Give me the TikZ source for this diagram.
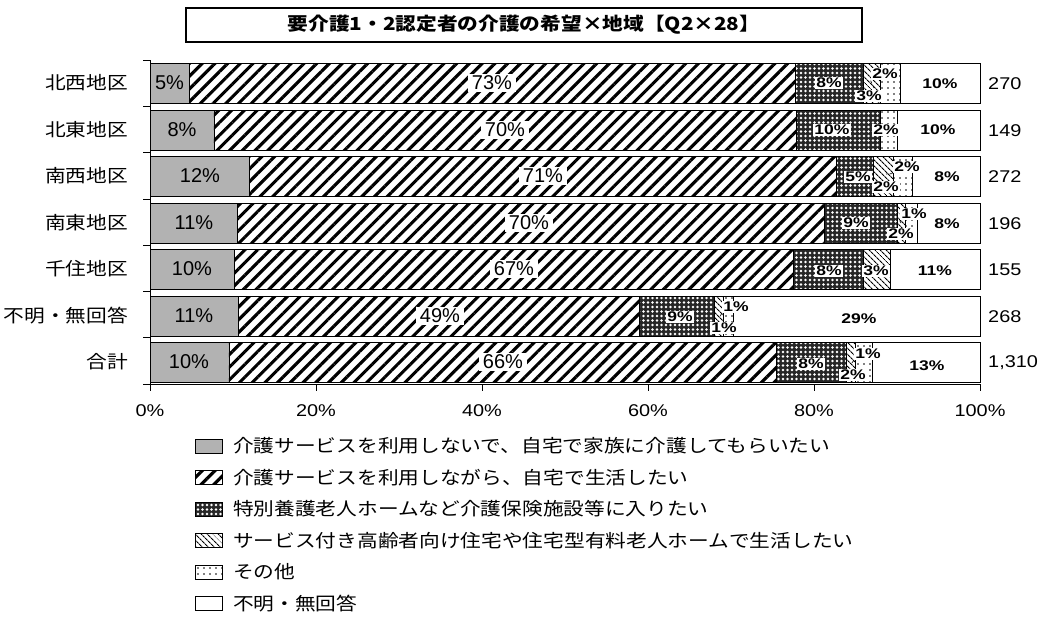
\documentclass[tikz,border=0pt]{standalone}
\usepackage{fontspec}
\setmainfont{Liberation Sans}
\newfontfamily\jp[FakeStretch=1.15]{Noto Sans CJK JP}
\newfontfamily\numw[FakeStretch=1.17]{Liberation Sans}
\newfontfamily\numb[FakeStretch=1.25]{Liberation Sans}
\usetikzlibrary{patterns.meta}
\usetikzlibrary{positioning}

\tikzset{
  kazoku/.style={draw=black,line width=0.8pt,fill=black!30},
  zaitaku/.style={draw=black,line width=0.8pt,pattern={Lines[angle=45,distance=9pt,line width=3.1pt]}},
  shisetsu/.style={draw=black,line width=0.8pt,preaction={fill=black!85},pattern={Dots[distance=4.5pt,radius=1.4pt]},pattern color=white},
  sakoju/.style={draw=black,line width=0.8pt,pattern={Lines[angle=-45,distance=4pt,line width=1.1pt]}},
  sonota/.style={draw=black,line width=0.8pt,pattern={Dots[distance=6pt,radius=0.8pt]}},
  fumei/.style={draw=black,line width=0.8pt,fill=white},
  biglbl/.style={inner sep=1pt,font=\fontsize{20}{22}\selectfont},
  boxlbl/.style={biglbl,fill=white,inner xsep=4pt,inner ysep=2pt},
  smlbl/.style={fill=white,inner sep=1.5pt,font=\numb\bfseries\fontsize{14}{15}\selectfont},
  leader/.style={densely dashed,line width=0.6pt},
  cat/.style={anchor=east,inner sep=0pt,font=\jp\fontsize{18}{20}\selectfont},
  cnt/.style={anchor=west,inner sep=0pt,font=\numw\fontsize{17}{19}\selectfont},
  tick/.style={font=\numw\fontsize{17}{19}\selectfont},
  swatch/.style={minimum width=27pt,minimum height=14pt,inner sep=0pt},
  legtxt/.style={inner sep=0pt,font=\jp\fontsize{18}{20}\selectfont}
}

\begin{document}
\begin{tikzpicture}[x=1pt,y=-1pt]
\useasboundingbox (0,0) rectangle (1044,622);

% title
\node[draw,line width=1.2pt,minimum width=676pt,minimum height=34pt,font=\jp\bfseries\fontsize{18}{20}\selectfont] (title) at (524,25) {要介護1・2認定者の介護の希望×地域【Q2×28】};

% bars
\draw[kazoku] (150,63) rectangle (189.0,103);
\draw[zaitaku] (189.0,63) rectangle (794.9,103);
\draw[shisetsu] (794.9,63) rectangle (863.0,103);
\draw[sakoju] (863.0,63) rectangle (880.4,103);
\draw[sonota] (880.4,63) rectangle (900.3,103);
\draw[fumei] (900.3,63) rectangle (980,103);

\draw[kazoku] (150,110) rectangle (213.9,150);
\draw[zaitaku] (213.9,110) rectangle (796.6,150);
\draw[shisetsu] (796.6,110) rectangle (880.4,150);
\draw[sonota] (880.4,110) rectangle (897.0,150);
\draw[fumei] (897.0,110) rectangle (980,150);

\draw[kazoku] (150,156) rectangle (249.6,196);
\draw[zaitaku] (249.6,156) rectangle (836.4,196);
\draw[shisetsu] (836.4,156) rectangle (873.8,196);
\draw[sakoju] (873.8,156) rectangle (892.9,196);
\draw[sonota] (892.9,156) rectangle (911.9,196);
\draw[fumei] (911.9,156) rectangle (980,196);

\draw[kazoku] (150,203) rectangle (237.2,243);
\draw[zaitaku] (237.2,203) rectangle (824.0,243);
\draw[shisetsu] (824.0,203) rectangle (897.0,243);
\draw[sakoju] (897.0,203) rectangle (905.3,243);
\draw[sonota] (905.3,203) rectangle (916.9,243);
\draw[fumei] (916.9,203) rectangle (980,243);

\draw[kazoku] (150,249) rectangle (234.7,289);
\draw[zaitaku] (234.7,249) rectangle (793.3,289);
\draw[shisetsu] (793.3,249) rectangle (863.0,289);
\draw[sakoju] (863.0,249) rectangle (890.4,289);
\draw[fumei] (890.4,249) rectangle (980,289);

\draw[kazoku] (150,296) rectangle (238.8,336);
\draw[zaitaku] (238.8,296) rectangle (639.7,336);
\draw[shisetsu] (639.7,296) rectangle (714.4,336);
\draw[sakoju] (714.4,296) rectangle (723.5,336);
\draw[sonota] (723.5,296) rectangle (733.5,336);
\draw[fumei] (733.5,296) rectangle (980,336);

\draw[kazoku] (150,342) rectangle (228.9,382);
\draw[zaitaku] (228.9,342) rectangle (776.7,382);
\draw[shisetsu] (776.7,342) rectangle (846.4,382);
\draw[sakoju] (846.4,342) rectangle (855.5,382);
\draw[sonota] (855.5,342) rectangle (872.1,382);
\draw[fumei] (872.1,342) rectangle (980,382);

% segment labels
\node[biglbl] (a1) at (169.5,83) {5\%};
\node[boxlbl] (b1) at (492,83) {73\%};
\node[smlbl] (c1) at (829,83) {8\%};
\node[smlbl] (d1) at (885,74) {2\%};
\node[smlbl] (e1) at (869,96) {3\%};
\node[smlbl] (f1) at (940,84) {10\%};
\coordinate (k1) at (874,88);
\draw[leader] (d1.south west) -- (k1);

\node[biglbl] (a2) at (182,130) {8\%};
\node[boxlbl] (b2) at (505,130) {70\%};
\node[smlbl] (c2) at (832,130) {10\%};
\node[smlbl] (d2) at (886,130) {2\%};
\node[smlbl] (f2) at (938,130) {10\%};

\node[biglbl] (a3) at (200,176) {12\%};
\node[boxlbl] (b3) at (543,176) {71\%};
\node[smlbl] (c3) at (858,177) {5\%};
\node[smlbl] (d3) at (907,167) {2\%};
\node[smlbl] (e3) at (886,187) {2\%};
\node[smlbl] (f3) at (947,177) {8\%};
\coordinate (k3) at (886,174);
\draw[leader] (d3.south west) -- (k3);

\node[biglbl] (a4) at (194,223) {11\%};
\node[boxlbl] (b4) at (529,223) {70\%};
\node[smlbl] (c4) at (856,223) {9\%};
\node[smlbl] (d4) at (914,214) {1\%};
\node[smlbl] (e4) at (901,234) {2\%};
\node[smlbl] (f4) at (947,224) {8\%};
\coordinate (k4) at (901,223);
\draw[leader] (d4.south west) -- (k4);

\node[biglbl] (a5) at (192,269) {10\%};
\node[boxlbl] (b5) at (514,269) {67\%};
\node[smlbl] (c5) at (829,271) {8\%};
\node[smlbl] (d5) at (876,271) {3\%};
\node[smlbl] (f5) at (935,271) {11\%};

\node[biglbl] (a6) at (194,316) {11\%};
\node[boxlbl] (b6) at (440,316) {49\%};
\node[smlbl] (c6) at (680,317) {9\%};
\node[smlbl] (d6) at (736,307) {1\%};
\node[smlbl] (e6) at (724,328) {1\%};
\node[smlbl] (f6) at (859,319) {29\%};
\coordinate (k6) at (719,318);
\draw[leader] (d6.south west) -- (k6);

\node[biglbl] (a7) at (189,362) {10\%};
\node[boxlbl] (b7) at (503,362) {66\%};
\node[smlbl] (c7) at (811,364) {8\%};
\node[smlbl] (d7) at (868,354) {1\%};
\node[smlbl] (e7) at (853,375) {2\%};
\node[smlbl] (f7) at (927,366) {13\%};
\coordinate (k7) at (851,364);
\draw[leader] (d7.south west) -- (k7);

% axes
\draw[line width=0.8pt] (150,60) -- (150,384) -- (980,384);
\foreach \y in {60,106.3,152.6,198.9,245.1,291.4,337.7,384} \draw[line width=0.8pt] (143,\y) -- (150,\y);
\foreach \p in {0,20,40,60,80,100} {
  \draw[line width=0.8pt] (150+8.3*\p,384) -- (150+8.3*\p,391);
  \node[tick] (t\p) at (150+8.3*\p,411) {\p\%};
}

% categories and counts
\node[cat] (r1) at (128,83) {北西地区};
\node[cat] (r2) at (128,130) {北東地区};
\node[cat] (r3) at (128,176) {南西地区};
\node[cat] (r4) at (128,223) {南東地区};
\node[cat] (r5) at (128,269) {千住地区};
\node[cat] (r6) at (128,316) {不明・無回答};
\node[cat] (r7) at (128,362) {合計};
\node[cnt] (n1) at (988,84) {270};
\node[cnt] (n2) at (988,131) {149};
\node[cnt] (n3) at (988,177) {272};
\node[cnt] (n4) at (988,224) {196};
\node[cnt] (n5) at (988,270) {155};
\node[cnt] (n6) at (988,317) {268};
\node[cnt] (n7) at (988,363) {1,310};

% legend
\node[swatch,kazoku] (sw1) at (209,446) {};
\node[swatch,zaitaku] (sw2) at (209,477.5) {};
\node[swatch,shisetsu] (sw3) at (209,509) {};
\node[swatch,sakoju] (sw4) at (209,540.5) {};
\node[swatch,sonota] (sw5) at (209,572) {};
\node[swatch,fumei] (sw6) at (209,603.5) {};
\node[legtxt,right=10pt of sw1] (lg1) {介護サービスを利用しないで、自宅で家族に介護してもらいたい};
\node[legtxt,right=10pt of sw2] (lg2) {介護サービスを利用しながら、自宅で生活したい};
\node[legtxt,right=10pt of sw3] (lg3) {特別養護老人ホームなど介護保険施設等に入りたい};
\node[legtxt,right=10pt of sw4] (lg4) {サービス付き高齢者向け住宅や住宅型有料老人ホームで生活したい};
\node[legtxt,right=10pt of sw5] (lg5) {その他};
\node[legtxt,right=10pt of sw6] (lg6) {不明・無回答};
\end{tikzpicture}
\end{document}
